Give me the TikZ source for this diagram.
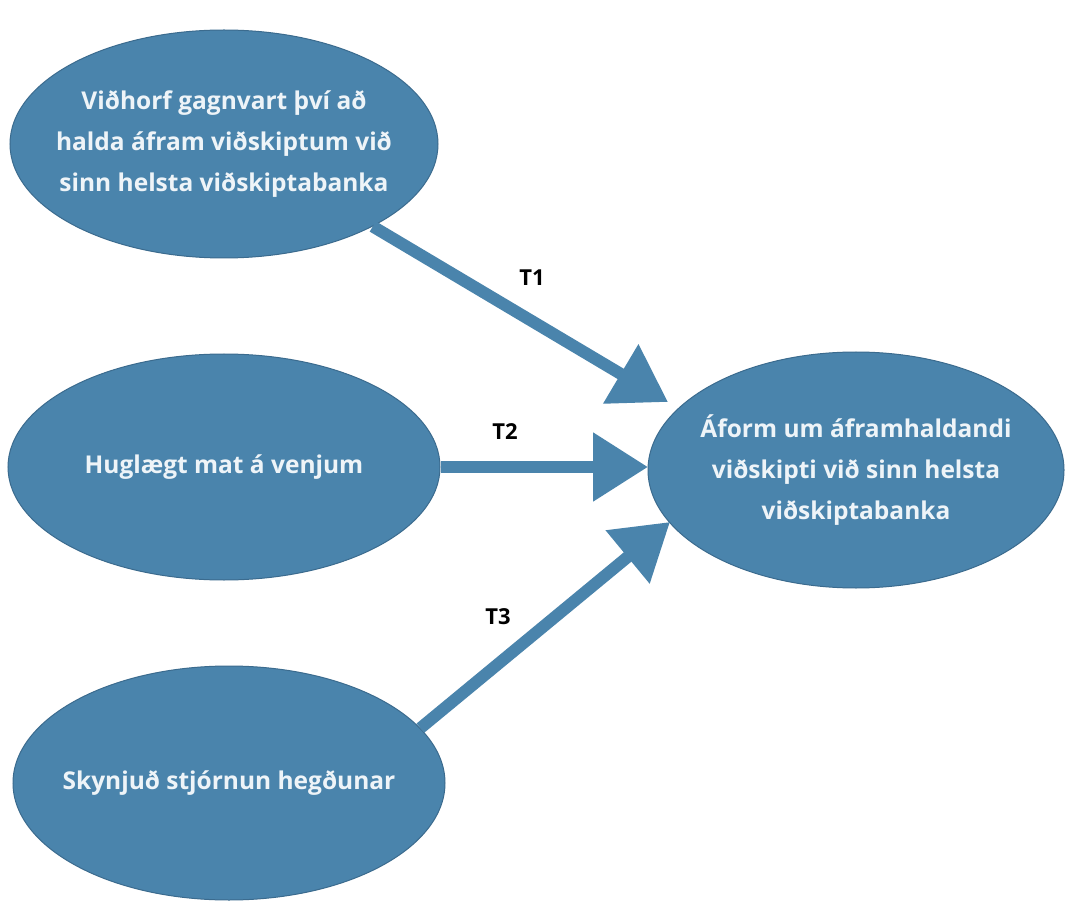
\documentclass[tikz,border=0pt]{standalone}
\usepackage{fontspec}
\setmainfont{Open Sans}
\usetikzlibrary{shapes.geometric,arrows.meta}
\definecolor{blu}{HTML}{4A84AC}
\definecolor{bluedge}{HTML}{3B6B8E}
\definecolor{txt}{HTML}{EEF4F8}
\tikzset{
  oval/.style={ellipse, draw=bluedge, line width=1pt, fill=blu, inner sep=0pt},
  ovaltext/.style={inner sep=0pt, text=txt, align=center,
    font=\fontsize{24.5}{41}\selectfont\bfseries},
  conn/.style={draw=blu, line width=12pt, -{Triangle[length=55pt,width=66pt]}},
  tlabel/.style={font=\fontsize{22}{24}\selectfont\bfseries, text=black}
}
\begin{document}
\begin{tikzpicture}[x=1pt,y=-1pt]
\useasboundingbox (0,0) rectangle (1066,909);
\fill[white] (0,0) rectangle (1066,909);
\node[oval, minimum width=428pt, minimum height=228pt] (e1) at (224,144) {};
\node[ovaltext] (e1t) at (e1.center)
  {Viðhorf gagnvart því að\\halda áfram viðskiptum við\\sinn helsta viðskiptabanka};
\node[oval, minimum width=432pt, minimum height=226pt] (e2) at (224,467) {};
\node[ovaltext] (e2t) at (e2.center) {Huglægt mat á venjum};
\node[oval, minimum width=432pt, minimum height=234pt] (e3) at (229,783) {};
\node[ovaltext] (e3t) at (e3.center) {Skynjuð stjórnun hegðunar};
\node[oval, minimum width=416pt, minimum height=236pt] (e4) at (856,470) {};
\node[ovaltext] (e4t) at (e4.center)
  {Áform um áframhaldandi\\viðskipti við sinn helsta\\viðskiptabanka};
\coordinate (t1) at (668,402);
\coordinate (t2) at (648,467);
\coordinate (t3) at (670,522);
\draw[conn] (e1.-29) -- (t1);
\draw[conn] (e2.east) -- (t2);
\draw[conn] (e3.16) -- (t3);
\node[tlabel] (l1) at (532,278) {T1};
\node[tlabel] (l2) at (505,432) {T2};
\node[tlabel] (l3) at (498,617) {T3};
\end{tikzpicture}
\end{document}
